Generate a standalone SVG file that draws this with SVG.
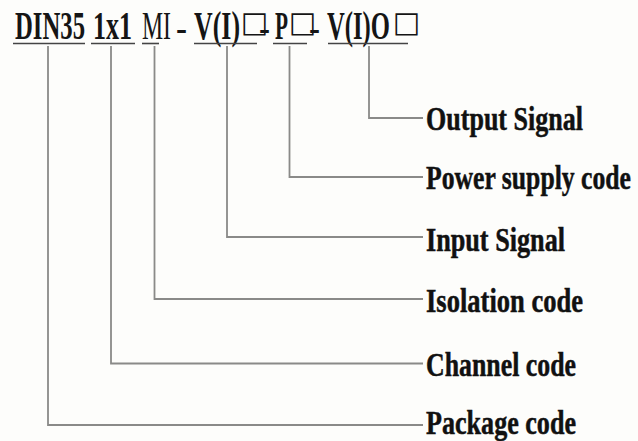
<svg xmlns="http://www.w3.org/2000/svg" width="638" height="441" viewBox="0 0 638 441">
<style>
.t{font-family:"Liberation Serif","Times New Roman","DejaVu Serif",serif;font-size:39px;font-weight:bold;fill:#151515}
.tn{font-weight:normal}
.sq{font-family:"DejaVu Sans",sans-serif;font-size:29px;font-weight:bold;fill:#151515}
.lb{font-family:"Liberation Serif","Times New Roman",serif;font-size:34px;font-weight:bold;fill:#111;stroke:#111;stroke-width:0.5}
.ul{stroke:#444;stroke-width:1.6;fill:none}
.cn{stroke:#8a8a88;stroke-width:1.8;fill:none}
</style>
<rect width="638" height="441" fill="#fdfdfb"/>
<g id="title">
<text class="t" x="15" y="39" textLength="70" lengthAdjust="spacingAndGlyphs">DIN35</text>
<text class="t" x="93" y="39" textLength="39" lengthAdjust="spacingAndGlyphs">1x1</text>
<text class="t tn" x="142" y="39" textLength="29" lengthAdjust="spacingAndGlyphs">MI</text>
<text class="t tn" x="176" y="40.5" textLength="11" lengthAdjust="spacingAndGlyphs">-</text>
<text class="t" x="194" y="39" textLength="46" lengthAdjust="spacingAndGlyphs">V(I)</text>
<text class="sq" x="241" y="32">□</text>
<text class="t tn" x="259" y="40.5" textLength="11" lengthAdjust="spacingAndGlyphs">-</text>
<text class="t" x="275" y="39" textLength="13" lengthAdjust="spacingAndGlyphs">P</text>
<text class="sq" x="289" y="32">□</text>
<text class="t tn" x="309" y="40.5" textLength="11" lengthAdjust="spacingAndGlyphs">-</text>
<text class="t" x="327" y="39" textLength="63" lengthAdjust="spacingAndGlyphs">V(I)O</text>
<text class="sq" x="393" y="32">□</text>
<g id="underlines">
<line class="ul" x1="13" y1="43.5" x2="85" y2="43.5"/>
<line class="ul" x1="91" y1="43.5" x2="135" y2="43.5"/>
<line class="ul" x1="142" y1="43.5" x2="159" y2="43.5"/>
<line class="ul" x1="194" y1="43.5" x2="257" y2="43.5"/>
<line class="ul" x1="273" y1="43.5" x2="307" y2="43.5"/>
<line class="ul" x1="328" y1="43.5" x2="408" y2="43.5"/>
</g>
</g>
<g id="connectors">
<polyline class="cn" points="48,46 48,425 423,425"/>
<polyline class="cn" points="111,46 111,363.5 423,363.5"/>
<polyline class="cn" points="154.5,46 154.5,299 423,299"/>
<polyline class="cn" points="227,46 227,237 423,237"/>
<polyline class="cn" points="289.5,46 289.5,177 423,177"/>
<polyline class="cn" points="369,46 369,118 423,118"/>
</g>
<g id="output-signal"><text class="lb" x="426" y="130" textLength="157" lengthAdjust="spacingAndGlyphs">Output Signal</text></g>
<g id="power-supply-code"><text class="lb" x="426" y="189" textLength="205" lengthAdjust="spacingAndGlyphs">Power supply code</text></g>
<g id="input-signal"><text class="lb" x="426" y="251" textLength="139" lengthAdjust="spacingAndGlyphs">Input Signal</text></g>
<g id="isolation-code"><text class="lb" x="426" y="312" textLength="157" lengthAdjust="spacingAndGlyphs">Isolation code</text></g>
<g id="channel-code"><text class="lb" x="426" y="376" textLength="150" lengthAdjust="spacingAndGlyphs">Channel code</text></g>
<g id="package-code"><text class="lb" x="426" y="434" textLength="150" lengthAdjust="spacingAndGlyphs">Package code</text></g>
</svg>
